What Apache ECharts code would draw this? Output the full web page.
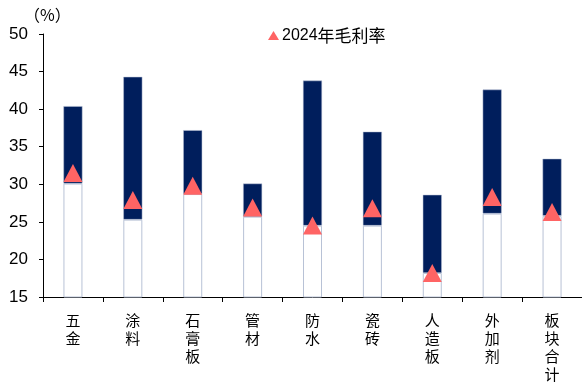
<!DOCTYPE html>
<html>
<head>
<meta charset="utf-8">
<script src="https://cdn.jsdelivr.net/npm/echarts@6/dist/echarts.min.js"></script>
<style>html,body{margin:0;padding:0;background:#fff;}#c{width:582px;height:383px;}</style>
</head>
<body>
<div id="c"></div>
<script>
const categories = ['五金','涂料','石膏板','管材','防水','瓷砖','人造板','外加剂','板块合计'];
const minValues = [30.1, 25.3, 28.7, 25.7, 24.5, 24.5, 18.2, 26.1, 25.8];
const maxValues = [40.4, 44.3, 37.2, 30.1, 43.8, 37.0, 28.6, 42.6, 33.4];
const margin2024 = [31.5, 27.9, 29.8, 26.9, 24.5, 26.8, 18.2, 28.3, 26.3];
const yTicks = [15, 20, 25, 30, 35, 40, 45, 50];

const chart = echarts.init(document.getElementById('c'));
const rangeValues = maxValues.map((v, i) => +(v - minValues[i]).toFixed(2));
const font = 'Liberation Sans, Arial, sans-serif';
chart.setOption({
  animation: false,
  grid: { left: 43, top: 34, right: -1, bottom: 86 },
  legend: {
    data: ['2024年毛利率'],
    left: 263, top: 22,
    icon: 'triangle',
    itemWidth: 11, itemHeight: 9, itemGap: 4,
    formatter: '{a|2024}{b|年毛利率}',
    textStyle: {
      color: '#000', padding: [0, 0, 0, -2],
      rich: {
        a: { fontSize: 16, fontFamily: font, color: '#000' },
        b: { fontSize: 17, fontFamily: 'Noto Sans CJK SC', color: '#000' }
      }
    }
  },
  graphic: [{
    type: 'text', left: 24, top: 7,
    style: { text: '（%）', fontSize: 16, fill: '#000', fontFamily: 'Noto Sans CJK SC' }
  }],
  xAxis: {
    type: 'category',
    data: categories,
    axisLine: { lineStyle: { color: '#000', width: 1 } },
    axisTick: { show: true, length: 5, lineStyle: { color: '#000' } },
    axisLabel: {
      interval: 0, margin: 14,
      fontSize: 15, lineHeight: 18, color: '#000', fontFamily: 'Noto Sans CJK SC',
      formatter: v => v.split('').join('\n'),
      verticalAlign: 'top'
    }
  },
  yAxis: {
    type: 'value', min: 15, max: 50, interval: 5,
    splitLine: { show: false },
    axisLine: { show: true, lineStyle: { color: '#000' } },
    axisTick: { show: true, length: 4, lineStyle: { color: '#000' } },
    axisLabel: { fontSize: 17, color: '#000', fontFamily: font, margin: 15,
      formatter: v => yTicks.includes(v) ? String(v) : '' }
  },
  series: [
    {
      name: 'base', type: 'bar', stack: 'r', barWidth: 19,
      data: minValues,
      itemStyle: { color: '#fff', borderColor: '#B8C2D6', borderWidth: 1 },
      silent: true
    },
    {
      name: 'range', type: 'bar', stack: 'r', barWidth: 19,
      data: rangeValues,
      itemStyle: { color: '#001E5C', borderColor: '#B8C2D6', borderWidth: 0.5 },
      silent: true
    },
    {
      name: '2024年毛利率', type: 'scatter',
      symbol: 'triangle', symbolSize: [19, 18],
      data: margin2024,
      itemStyle: { color: '#FF6464', opacity: 1 },
      z: 5
    }
  ]
});
</script>
</body>
</html>
